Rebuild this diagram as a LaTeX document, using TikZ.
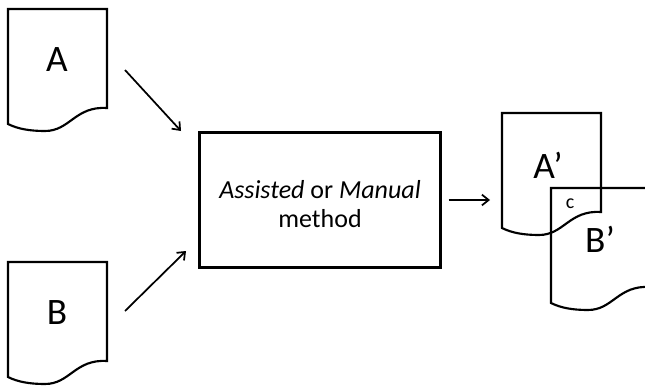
\documentclass[tikz,border=0pt]{standalone}
\usepackage{fontspec}
\setmainfont{Carlito}
\usetikzlibrary{arrows.meta, positioning}

% a page with a wavy lower edge, #1,#2 = top left corner
\newcommand{\wavedoc}[2]{%
\draw[shift={(#1,#2)}] (0,0) -- (99,0) -- (99,99)
  .. controls (67,97) and (62,122) .. (37,122)
  .. controls (22,122) and (10,120) .. (0,115) -- cycle;}

\tikzset{
  doclabel/.style={font=\fontsize{28}{30}\selectfont, inner sep=0pt},
  methodbox/.style={draw, minimum width=180.75pt, minimum height=101.25pt, align=center,
    font=\fontsize{19.5}{21.5}\selectfont},
  flow/.style={-{Straight Barb[length=5pt, width=8pt]}, line width=1.3pt}
}

\begin{document}
\begin{tikzpicture}[x=0.75pt, y=-0.75pt, line width=1.6pt]
\useasboundingbox (0,0) rectangle (645,385);

\wavedoc{8}{9}
\wavedoc{8}{262}
\wavedoc{502}{113}
\wavedoc{551}{188}

\node[doclabel] (docA) at (57,60) {A};
\node[doclabel] (docB) at (57,313) {B};
\node[doclabel] (docA2) at (548,165) {A’};
\node[doclabel] (docB2) at (600,239) {B’};
\node[font=\fontsize{15}{17}\selectfont, inner sep=0pt] (common) at (570,204) {c};

\node[methodbox] (method) at (320,200) {};
\node[align=center, font=\fontsize{19.5}{21.5}\selectfont] (methodtext) at (320,204)
  {\textit{Assisted} or \textit{Manual}\\method};

\coordinate (inA) at (125,70);
\coordinate (toA) at (181,131);
\coordinate (inB) at (125,311);
\coordinate (toB) at (186,251);
\coordinate (out) at (490,200);

\draw[flow] (inA) -- (toA);
\draw[flow] (inB) -- (toB);
\draw[flow] (method.east) ++(7,0) coordinate (from) -- (out);
\end{tikzpicture}
\end{document}
